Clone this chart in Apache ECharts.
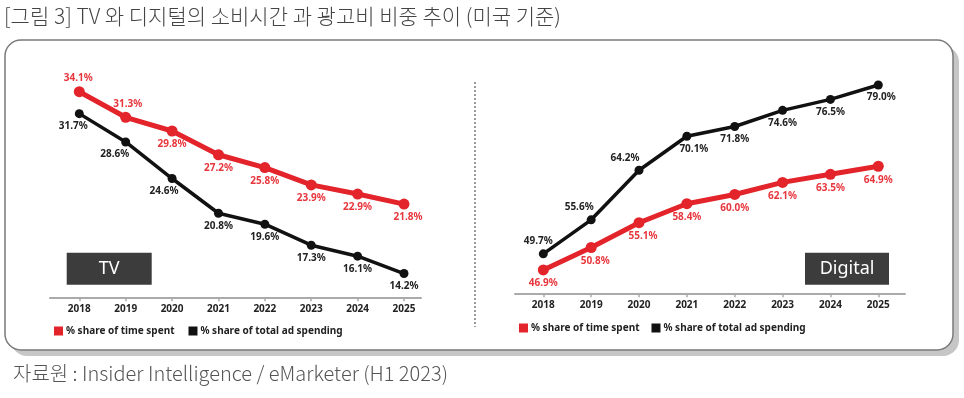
<!DOCTYPE html>
<html>
<head>
<meta charset="utf-8">
<script src="https://cdn.jsdelivr.net/npm/echarts@6/dist/echarts.min.js"></script>
<style>
  html, body { margin: 0; padding: 0; background: #fff; }
  #chart { width: 964px; height: 398px; }
</style>
</head>
<body>
<div id="chart"></div>
<script>
// data
const years = ['2018', '2019', '2020', '2021', '2022', '2023', '2024', '2025'];
const tvTimeSpent = [34.1, 31.3, 29.8, 27.2, 25.8, 23.9, 22.9, 21.8];
const tvAdSpending = [31.7, 28.6, 24.6, 20.8, 19.6, 17.3, 16.1, 14.2];
const digitalTimeSpent = [46.9, 50.8, 55.1, 58.4, 60.0, 62.1, 63.5, 64.9];
const digitalAdSpending = [49.7, 55.6, 64.2, 70.1, 71.8, 74.6, 76.5, 79.0];

const nameTime = '% share of time spent';
const nameAd = '% share of total ad spending';

// label placement (top / bottom + x nudge)
const tvTimePos = ['top', 'top', 'bottom', 'bottom', 'bottom', 'bottom', 'bottom', 'bottom'];
const tvTimeDx = [-1, 2, 0, 0, 0, 0, 0, 4];
const tvAdDx = [-6, -11, -8, 0, 0, 0, 0, 0];
const digAdPos = ['top', 'top', 'top', 'bottom', 'bottom', 'bottom', 'bottom', 'bottom'];
const digAdDx = [-5, -12, -14, 7, 0, 0, 0, 3];
const digTimeDx = [0, 4, 4, 0, 0, 0, 0, 0];

const RED = '#e3242b';
const RED_TXT = '#e8363d';
const BLACK = '#111111';
const FONT = 'Noto Sans';

let myChart = echarts.init(document.getElementById('chart'));

function pts (values, pos, dx) {
  return values.map(function (v, i) {
    return {
      value: v,
      label: {
        position: pos[i],
        offset: [dx[i], 0]
      }
    };
  });
}

function lineSeries (name, values, pos, dx, color, txtColor, width, sym, idx) {
  return {
    name: name,
    type: 'line',
    xAxisIndex: idx,
    yAxisIndex: idx,
    data: pts(values, pos, dx),
    symbol: 'circle',
    symbolSize: sym,
    lineStyle: { color: color, width: width },
    itemStyle: { color: color },
    label: {
      show: true,
      distance: 3,
      formatter: function (p) { return p.value.toFixed(1) + '%'; },
      color: txtColor,
      fontFamily: FONT,
      fontWeight: 'bold',
      fontSize: 10
    },
    animation: false
  };
}

function catAxis (gi) {
  return {
    type: 'category',
    gridIndex: gi,
    data: years,
    boundaryGap: false,
    axisLine: { show: false },
    axisTick: { show: true, length: 4, lineStyle: { color: '#aaa', width: 1.5 } },
    axisLabel: {
      margin: 7,
      color: '#222',
      fontFamily: FONT,
      fontWeight: 'bold',
      fontSize: 10
    }
  };
}

function valAxis (gi, min, max) {
  return {
    type: 'value',
    gridIndex: gi,
    min: min,
    max: max,
    show: false
  };
}

// baseline-only axes (wider than the data grids)
function baseX (gi) {
  return {
    type: 'value', gridIndex: gi, min: 0, max: 1,
    axisLine: { show: true, lineStyle: { color: '#aaa', width: 2 } },
    axisTick: { show: false }, axisLabel: { show: false }, splitLine: { show: false }
  };
}
function baseY (gi) {
  return { type: 'value', gridIndex: gi, min: 0, max: 1, show: false };
}

function legendFor (left, top, gap) {
  return {
    left: left,
    top: top,
    icon: 'rect',
    itemWidth: 9,
    itemHeight: 9,
    itemGap: gap,
    selectedMode: false,
    data: [
      { name: nameTime, itemStyle: { color: RED } },
      { name: nameAd, itemStyle: { color: BLACK } }
    ],
    textStyle: { fontFamily: FONT, fontWeight: 'bold', fontSize: 10, color: '#222', padding: [0, 0, 0, -2] }
  };
}

function tag (text, x, y, w) {
  return {
    type: 'group',
    left: x,
    top: y,
    children: [
      { type: 'rect', shape: { x: 0, y: 0, width: w, height: 32 }, style: { fill: '#3c3c3c' } },
      {
        type: 'text',
        x: w / 2,
        y: 16,
        style: {
          text: text, fill: '#fff', font: '18px "Noto Sans"',
          textAlign: 'center', textVerticalAlign: 'middle'
        }
      }
    ]
  };
}

myChart.setOption({
  animation: false,
  grid: [
    { left: 79.3, right: 560, top: 91.7, bottom: 100.7 },
    { left: 543.3, right: 85.7, top: 85, bottom: 104.7 },
    { left: 50, right: 543, top: 91.7, bottom: 100.7 },
    { left: 515, right: 59, top: 85, bottom: 104.7 }
  ],
  xAxis: [catAxis(0), catAxis(1), baseX(2), baseX(3)],
  yAxis: [valAxis(0, 11.6, 34.1), valAxis(1, 42.85, 79.0), baseY(2), baseY(3)],
  legend: [legendFor(49, 321, 14), legendFor(514, 318, 12)],
  series: [
    lineSeries(nameAd, tvAdSpending, tvAdDx.map(function () { return 'bottom'; }), tvAdDx, BLACK, '#222', 3.5, 9, 0),
    lineSeries(nameTime, tvTimeSpent, tvTimePos, tvTimeDx, RED, RED_TXT, 5, 11, 0),
    lineSeries(nameAd, digitalAdSpending, digAdPos, digAdDx, BLACK, '#222', 3.5, 9, 1),
    lineSeries(nameTime, digitalTimeSpent, digTimeDx.map(function () { return 'bottom'; }), digTimeDx, RED, RED_TXT, 5, 11, 1)
  ],
  graphic: [
    {
      type: 'rect', z: -20, silent: true,
      shape: { x: 11, y: 46, width: 948, height: 310, r: 16 },
      style: { fill: '#c6c6c6' }
    },
    {
      type: 'rect', z: -19, silent: true,
      shape: { x: 5, y: 40, width: 948, height: 310, r: 16 },
      style: { fill: '#fff', stroke: '#7a7a7a', lineWidth: 1.5 }
    },
    {
      type: 'line', z: -18, silent: true,
      shape: { x1: 475, y1: 82, x2: 475, y2: 327 },
      style: { stroke: '#9a9a9a', lineWidth: 2, lineDash: [2, 2] }
    },
    tag('TV', 66.7, 252.7, 85),
    tag('Digital', 805, 252.7, 84),
    {
      type: 'text', left: 4, top: 6,
      style: {
        text: '[그림 3] TV 와 디지털의 소비시간 과 광고비 비중 추이 (미국 기준)',
        fill: '#444', font: '300 21px "Noto Sans CJK KR"'
      }
    },
    {
      type: 'text', left: 13, top: 363,
      style: {
        text: '자료원 : Insider Intelligence / eMarketer (H1 2023)',
        fill: '#555', font: '300 20px "Noto Sans CJK KR"'
      }
    }
  ]
});

window.addEventListener('resize', function () {
  myChart.resize();
});
</script>
</body>
</html>
